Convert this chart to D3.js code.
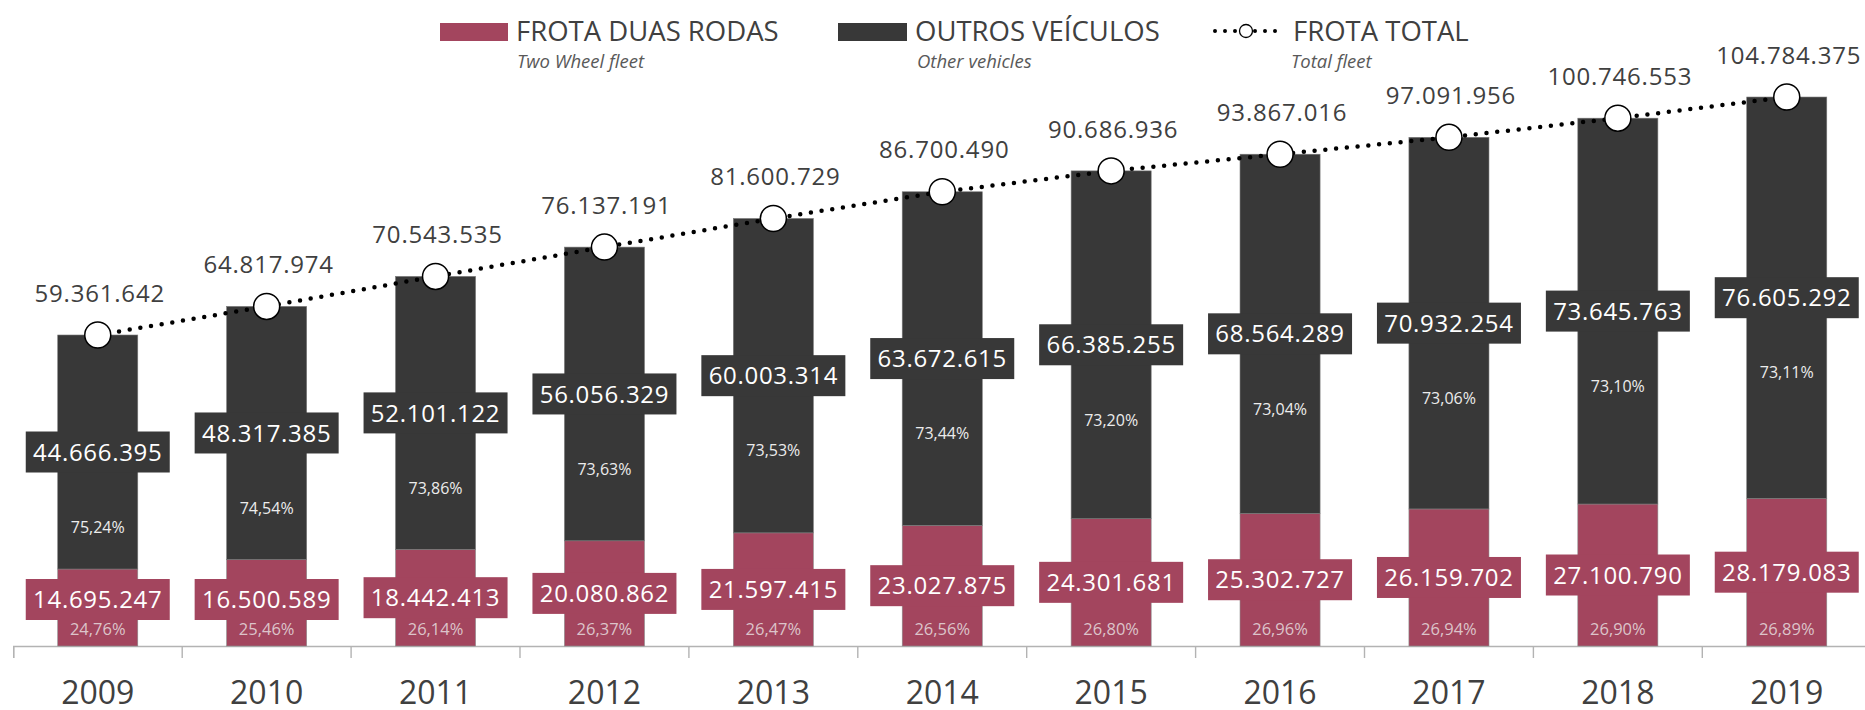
<!doctype html>
<html>
  <head>
    <meta charset="utf-8">
    <script src="https://d3js.org/d3.v7.min.js"></script>
    <style>
      body { margin: 0; background: #fff; }
      svg { display: block; font-family: "Open Sans", sans-serif; }
    </style>
  </head>

  <body onload="init()">
    <svg class="chart" width="1865" height="710"></svg>

    <script>
      // data
      var years = ["2009", "2010", "2011", "2012", "2013", "2014", "2015", "2016", "2017", "2018", "2019"];
      var twoWheel = [14695247, 16500589, 18442413, 20080862, 21597415, 23027875, 24301681, 25302727, 26159702, 27100790, 28179083];
      var others = [44666395, 48317385, 52101122, 56056329, 60003314, 63672615, 66385255, 68564289, 70932254, 73645763, 76605292];
      var totals = [59361642, 64817974, 70543535, 76137191, 81600729, 86700490, 90686936, 93867016, 97091956, 100746553, 104784375];

      var legendNames = ["FROTA DUAS RODAS", "OUTROS VEÍCULOS", "FROTA TOTAL"];
      var legendSubs = ["Two Wheel fleet", "Other vehicles", "Total fleet"];

      function init() {
        var svg = d3.select("svg");
        var maroon = "#a3455e", dark = "#383838", txt = "#404040";

        var loc = d3.formatLocale({decimal: ",", thousands: ".", grouping: [3], currency: ["", ""]});
        var fmt = loc.format(",d"), pct = loc.format(".2%");

        var base = 646;
        var x = d3.scaleBand().domain(years).range([13.3, 1871.2]).padding(0);
        var y = d3.scaleLinear().domain([0, 110000000]).range([base, 69.7]);
        var barW = x.bandwidth() * 0.474;
        var cx = function(d) { return x(d) + x.bandwidth() / 2; };

        var data = years.map(function(yr, i) {
          return {year: yr, two: twoWheel[i], other: others[i], total: totals[i]};
        });

        // axis
        var ax = svg.append("g")
          .attr("transform", "translate(0," + base + ")")
          .call(d3.axisBottom(x).tickSizeInner(0).tickSizeOuter(12).tickPadding(35));
        ax.select(".domain").attr("stroke", "#b3b3b3").attr("stroke-width", 1.6);
        ax.selectAll("text").attr("fill", txt).style("font-size", "32px")
          .style("font-family", "'Open Sans', sans-serif");
        ax.selectAll(".bound").data(years.slice(1)).enter().append("line")
          .attr("x1", function(d) { return x(d); }).attr("x2", function(d) { return x(d); })
          .attr("y1", 0).attr("y2", 12)
          .attr("stroke", "#b3b3b3").attr("stroke-width", 1.4);

        // bars
        var g = svg.append("g");
        g.selectAll(".two").data(data).enter().append("rect")
          .attr("x", function(d) { return cx(d.year) - barW / 2; })
          .attr("y", function(d) { return y(d.two); })
          .attr("width", barW)
          .attr("height", function(d) { return base - y(d.two); })
          .attr("fill", maroon).attr("stroke", "#8c8c8c").attr("stroke-width", 0.6);
        g.selectAll(".oth").data(data).enter().append("rect")
          .attr("x", function(d) { return cx(d.year) - barW / 2; })
          .attr("y", function(d) { return y(d.total); })
          .attr("width", barW)
          .attr("height", function(d) { return y(d.two) - y(d.total); })
          .attr("fill", dark).attr("stroke", "#7a7a7a").attr("stroke-width", 0.6);

        // value boxes
        function box(sel, color, cyFn, valFn) {
          var b = sel.enter().append("g")
            .attr("transform", function(d) { return "translate(" + cx(d.year) + "," + cyFn(d) + ")"; });
          b.append("rect").attr("x", -72).attr("y", -20.5).attr("width", 144).attr("height", 41).attr("fill", color);
          b.append("text").attr("text-anchor", "middle").attr("dy", "0.36em")
            .attr("fill", "#fff").style("font-size", "24px").style("letter-spacing", "0.7px")
            .text(function(d) { return fmt(valFn(d)); });
        }
        var darkMid = function(d) { return (y(d.two) + y(d.total)) / 2; };
        box(g.selectAll(".bd").data(data), dark, darkMid, function(d) { return d.other; });
        box(g.selectAll(".bm").data(data), maroon, function(d) {
          return Math.min((y(0) + y(d.two)) / 2, base - 46.5);
        }, function(d) { return d.two; });

        // percentages
        g.selectAll(".pd").data(data).enter().append("text")
          .attr("x", function(d) { return cx(d.year); })
          .attr("y", function(d) { return darkMid(d) + 75; })
          .attr("dy", "0.36em").attr("text-anchor", "middle")
          .attr("fill", "#ececec").style("font-size", "16px")
          .text(function(d) { return pct(d.other / d.total); });
        g.selectAll(".pm").data(data).enter().append("text")
          .attr("x", function(d) { return cx(d.year); })
          .attr("y", base - 17)
          .attr("dy", "0.36em").attr("text-anchor", "middle")
          .attr("fill", "#dcc4ca").style("font-size", "16.5px")
          .text(function(d) { return pct(d.two / d.total); });

        // total line
        var line = d3.line().x(function(d) { return cx(d.year); }).y(function(d) { return y(d.total); });
        g.append("path").datum(data).attr("d", line)
          .attr("fill", "none").attr("stroke", "#000").attr("stroke-width", 4.5)
          .attr("stroke-linecap", "round").attr("stroke-dasharray", "0 10.8");
        g.selectAll(".dot").data(data).enter().append("circle")
          .attr("cx", function(d) { return cx(d.year); })
          .attr("cy", function(d) { return y(d.total); })
          .attr("r", 13).attr("fill", "#fff").attr("stroke", "#000").attr("stroke-width", 1.5);
        g.selectAll(".tl").data(data).enter().append("text")
          .attr("x", function(d) { return cx(d.year) + 2; })
          .attr("y", function(d) { return y(d.total) - 42; })
          .attr("dy", "0.36em").attr("text-anchor", "middle")
          .attr("fill", txt).style("font-size", "24px").style("letter-spacing", "0.8px")
          .text(function(d) { return fmt(d.total); });

        // legend
        var lg = svg.append("g");
        var lx = [440, 838, 1215];
        lg.append("rect").attr("x", lx[0]).attr("y", 23).attr("width", 68).attr("height", 18).attr("fill", maroon);
        lg.append("rect").attr("x", lx[1]).attr("y", 23).attr("width", 69).attr("height", 18).attr("fill", dark);
        lg.append("line").attr("x1", 1215).attr("x2", 1283).attr("y1", 31).attr("y2", 31)
          .attr("stroke", "#000").attr("stroke-width", 4).attr("stroke-linecap", "round")
          .attr("stroke-dasharray", "0 10");
        lg.append("circle").attr("cx", 1246).attr("cy", 31).attr("r", 6.5)
          .attr("fill", "#fff").attr("stroke", "#000").attr("stroke-width", 1.3);
        var tx = [516, 915, 1293], sx = [517, 917, 1291];
        legendNames.forEach(function(n, i) {
          lg.append("text").attr("x", tx[i]).attr("y", 40.7).attr("fill", txt)
            .style("font-size", "27.5px").text(n);
          lg.append("text").attr("x", sx[i]).attr("y", 68).attr("fill", "#595959")
            .style("font-size", "18.5px").style("font-style", "italic").text(legendSubs[i]);
        });
      }
    </script>
  </body>
</html>
